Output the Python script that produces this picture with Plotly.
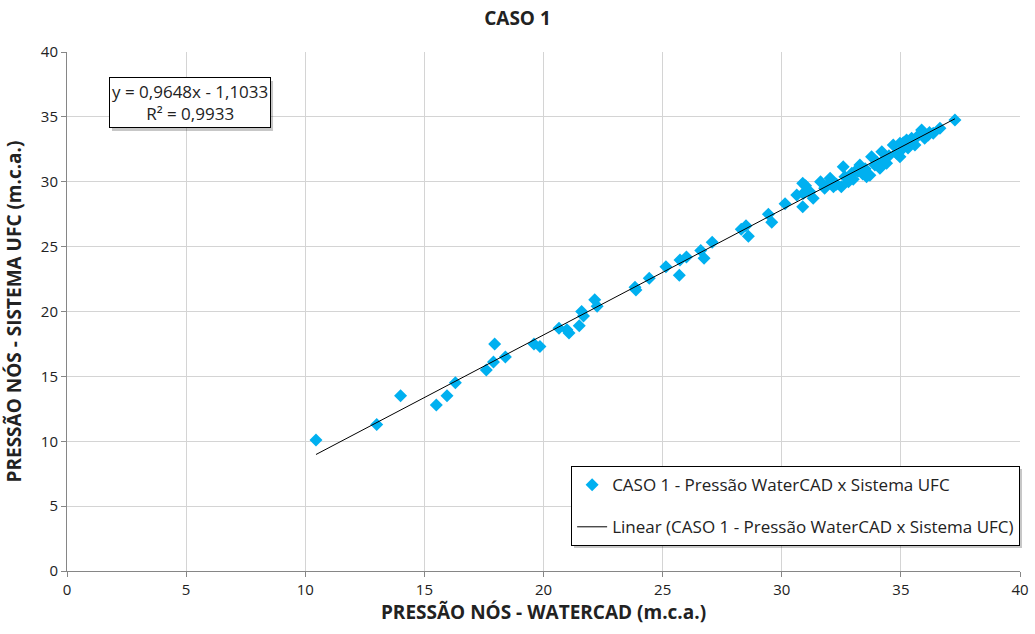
import plotly.graph_objects as go
import numpy as np

# WaterCAD pressure (x) vs Sistema UFC pressure (y), m.c.a.
pressao_watercad = [
    10.45, 13.0, 14.0, 15.5, 15.95, 16.3, 17.6, 17.9, 17.95, 18.4,
    19.6, 19.85, 20.65, 20.98, 21.07, 21.5, 21.6, 21.68, 22.15, 22.25,
    23.84, 23.88, 24.44, 25.14, 25.7, 25.73, 26.0, 26.6, 26.74, 27.08,
    28.3, 28.5, 28.6, 29.44, 29.58, 30.14, 30.63, 30.88, 30.9, 30.88,
    31.32, 31.18, 31.63, 32.03, 32.17, 32.5, 32.58, 32.65, 32.94, 33.14,
    33.28, 33.56, 33.77, 33.91, 34.12, 34.2, 34.4, 34.68, 34.82, 34.96,
    34.96, 35.24, 35.45, 35.59, 35.87, 36.0, 36.15, 36.36, 36.64, 37.27,
    33.0, 33.4, 33.7, 34.0, 33.5, 32.8, 32.3, 31.8, 34.5, 35.1,
    35.3, 35.7, 36.2, 31.0, 32.0, 33.2, 34.3, 35.0,
]
pressao_ufc = [
    10.1, 11.3, 13.5, 12.8, 13.5, 14.5, 15.5, 16.1, 17.5, 16.5,
    17.5, 17.3, 18.7, 18.6, 18.35, 18.9, 20.0, 19.65, 20.9, 20.4,
    21.87, 21.66, 22.56, 23.45, 22.8, 23.97, 24.2, 24.7, 24.1, 25.33,
    26.33, 26.6, 25.8, 27.5, 26.87, 28.3, 28.98, 29.88, 29.1, 28.08,
    28.72, 29.23, 30.0, 30.27, 29.62, 29.62, 31.16, 30.39, 30.65, 30.9,
    31.3, 30.39, 31.93, 31.29, 31.04, 32.32, 31.42, 32.83, 32.19, 31.93,
    32.96, 33.22, 33.35, 32.83, 33.99, 33.35, 33.6, 33.73, 34.12, 34.76,
    30.2, 30.6, 30.5, 31.5, 31.0, 30.0, 29.8, 29.5, 32.0, 33.0,
    32.6, 33.5, 33.8, 29.7, 29.9, 30.8, 31.7, 32.4,
]

slope = 0.9648
intercept = -1.1033
eq_text = "y = 0,9648x - 1,1033<br>R² = 0,9933"

x_tick_vals = [0, 5, 10, 15, 20, 25, 30, 35, 40]
y_tick_vals = [0, 5, 10, 15, 20, 25, 30, 35, 40]

FONT = "Open Sans"
serie_name = "CASO 1 - Pressão WaterCAD x Sistema UFC"

xs = np.array([min(pressao_watercad), max(pressao_watercad)])
ys = slope * xs + intercept

fig = go.Figure()
fig.add_trace(go.Scatter(
    x=pressao_watercad, y=pressao_ufc, mode="markers",
    marker=dict(symbol="diamond", color="#00B0F0", size=10, line=dict(width=0)),
    name=serie_name, legendgroup="a",
))
fig.add_trace(go.Scatter(
    x=xs, y=ys, mode="lines", line=dict(color="black", width=1),
    name="Linear (" + serie_name + ")", legendgroup="b",
))

shadow = "rgba(0,0,0,0.22)"
fig.update_layout(
    width=1035, height=634,
    paper_bgcolor="white", plot_bgcolor="white",
    margin=dict(l=67, r=15, t=52, b=63, autoexpand=False),
    font=dict(family=FONT, size=15, color="#222"),
    title=dict(text="<b>CASO 1</b>", x=0.5, xanchor="center", y=0.971, yanchor="middle",
               font=dict(size=19, family=FONT, color="#222")),
    showlegend=True,
    legend=dict(x=0.529, y=0.202, xanchor="left", yanchor="top",
                bgcolor="white", bordercolor="black", borderwidth=1,
                font=dict(size=17, family=FONT, color="#222"),
                tracegroupgap=17, itemwidth=30),
    xaxis=dict(range=[0, 40], tickvals=x_tick_vals, showgrid=True, gridcolor="#d4d4d4",
               zeroline=False, showline=True, linecolor="#868686", ticks="outside",
               ticklen=5, tickcolor="#868686", tickfont=dict(size=15), automargin=False,
               title=dict(text="<b>PRESSÃO NÓS - WATERCAD (m.c.a.)</b>", font=dict(size=19), standoff=6)),
    yaxis=dict(range=[0, 40], tickvals=y_tick_vals, showgrid=True, gridcolor="#d4d4d4",
               zeroline=False, showline=True, linecolor="#868686", ticks="outside",
               ticklen=5, tickcolor="#868686", tickfont=dict(size=15), automargin=False,
               title=dict(text="<b>PRESSÃO NÓS - SISTEMA UFC (m.c.a.)</b>", font=dict(size=19), standoff=14)),
    shapes=[
        dict(type="rect", xref="paper", yref="paper", x0=0.0472, x1=0.2162, y0=0.8478, y1=0.9441,
             fillcolor=shadow, line=dict(width=0), layer="above"),
        dict(type="rect", xref="paper", yref="paper", x0=0.5320, x1=1.0021, y0=0.0443, y1=0.1965,
             fillcolor=shadow, line=dict(width=0), layer="above"),
    ],
)

fig.add_annotation(
    x=5.16, y=36.1, xref="x", yref="y", text=eq_text, showarrow=False,
    font=dict(size=17, family=FONT, color="#222"), align="center",
    bordercolor="black", borderwidth=1, bgcolor="white", borderpad=2,
)

fig.write_html("out.html", config={"displayModeBar": False},
               post_script="document.body.style.margin='0';window.dispatchEvent(new Event('resize'));")
